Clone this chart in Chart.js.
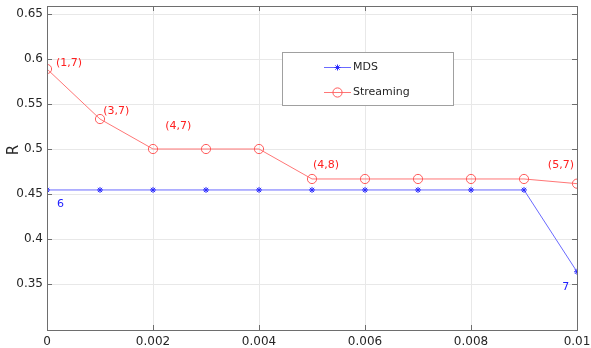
<!DOCTYPE html>
<html>
<head>
<meta charset="utf-8">
<script src="https://cdn.jsdelivr.net/npm/chart.js@4.4.1/dist/chart.umd.min.js"></script>
<style>
  html, body { margin: 0; padding: 0; background: #fff; }
  #wrap { width: 591px; height: 348px; }
</style>
</head>
<body>
<div id="wrap"><canvas id="chart" width="591" height="348"></canvas></div>
<script>
// ======================
// Data
// ======================
const xValues = [0, 0.001, 0.002, 0.003, 0.004, 0.005, 0.006, 0.007, 0.008, 0.009, 0.01];
const mdsValues = [0.4545, 0.4545, 0.4545, 0.4545, 0.4545, 0.4545, 0.4545, 0.4545, 0.4545, 0.4545, 0.3636];
const streamingValues = [0.5889, 0.5333, 0.5, 0.5, 0.5, 0.4667, 0.4667, 0.4667, 0.4667, 0.4667, 0.4615];

const xTicks = [0, 0.002, 0.004, 0.006, 0.008, 0.01];
const yTicks = [0.35, 0.4, 0.45, 0.5, 0.55, 0.6, 0.65];

const seriesNames = ["MDS", "Streaming"];
const yAxisLabel = "R";

// text annotations (like MATLAB text(x, y, str)), in data units
const streamingNotes = ["(1,7)", "(3,7)", "(4,7)", "(4,8)", "(5,7)"];
const streamingNoteX = [0.00017, 0.00106, 0.00223, 0.00502, 0.00945];
const streamingNoteY = [0.5956, 0.5422, 0.5256, 0.4822, 0.4822];
const mdsNotes = ["6", "7"];
const mdsNoteX = [0.00019, 0.00972];
const mdsNoteY = [0.4389, 0.3467];

const FONT = "DejaVu Sans";
const AXIS_COLOR = "#6e6e6e";

// ======================
// Extra drawing: box, inward ticks, notes, legend, y label
// ======================
const matlabLook = {
  id: "matlabLook",
  afterDatasetsDraw(chart) {
    const ctx = chart.ctx;
    const { left, right, top, bottom } = chart.chartArea;
    const xs = chart.scales.x, ys = chart.scales.y;

    ctx.save();
    // box
    ctx.strokeStyle = AXIS_COLOR;
    ctx.lineWidth = 1;
    ctx.strokeRect(Math.round(left) + 0.5, Math.round(top) + 0.5,
      Math.round(right - left), Math.round(bottom - top));

    // inward ticks
    const tl = 5;
    ctx.beginPath();
    xTicks.forEach(v => {
      const px = Math.round(xs.getPixelForValue(v)) + 0.5;
      ctx.moveTo(px, bottom); ctx.lineTo(px, bottom - tl);
      ctx.moveTo(px, top); ctx.lineTo(px, top + tl);
    });
    yTicks.forEach(v => {
      const py = Math.round(ys.getPixelForValue(v)) + 0.5;
      ctx.moveTo(left, py); ctx.lineTo(left + tl, py);
      ctx.moveTo(right, py); ctx.lineTo(right - tl, py);
    });
    ctx.stroke();

    // annotations
    ctx.font = "11px '" + FONT + "'";
    ctx.textAlign = "left";
    ctx.textBaseline = "middle";
    ctx.fillStyle = "#ff2020";
    streamingNotes.forEach((t, i) => {
      ctx.fillText(t, xs.getPixelForValue(streamingNoteX[i]), ys.getPixelForValue(streamingNoteY[i]));
    });
    ctx.fillStyle = "#2020ff";
    mdsNotes.forEach((t, i) => {
      ctx.fillText(t, xs.getPixelForValue(mdsNoteX[i]), ys.getPixelForValue(mdsNoteY[i]));
    });

    // legend
    const lx = 282.5, ly = 52.5, lw = 171, lh = 53;
    ctx.fillStyle = "#fff";
    ctx.fillRect(lx, ly, lw, lh);
    ctx.strokeStyle = "#a0a0a0";
    ctx.strokeRect(lx, ly, lw, lh);
    const rows = [67, 92];
    chart.data.datasets.forEach((ds, i) => {
      const y = rows[i];
      ctx.strokeStyle = ds.borderColor;
      ctx.lineWidth = 1;
      ctx.beginPath();
      ctx.moveTo(324, y + 0.5); ctx.lineTo(351, y + 0.5);
      ctx.stroke();
      ctx.strokeStyle = ds.pointBorderColor;
      ctx.fillStyle = ds.pointBackgroundColor;
      Chart.helpers.drawPoint(ctx, {
        pointStyle: ds.pointStyle,
        radius: ds.pointRadius,
        borderWidth: 1,
        rotation: 0
      }, 337.5, y + 0.5);
      ctx.fillStyle = "#262626";
      ctx.font = "11px '" + FONT + "'";
      ctx.textBaseline = "middle";
      ctx.fillText(ds.label, 353, y);
    });
    ctx.restore();
  },
  afterDraw(chart) {
    // y axis label
    const ctx = chart.ctx;
    ctx.save();
    ctx.translate(14, 150);
    ctx.rotate(-Math.PI / 2);
    ctx.font = "15px '" + FONT + "'";
    ctx.fillStyle = "#262626";
    ctx.textAlign = "center";
    ctx.textBaseline = "middle";
    ctx.fillText(yAxisLabel, 0, 0);
    ctx.restore();
  }
};

function pointsOf(values) {
  return values.map((v, i) => ({ x: xValues[i], y: v }));
}

const ctx = document.getElementById("chart").getContext("2d");
new Chart(ctx, {
  type: "line",
  data: {
    datasets: [
      {
        label: seriesNames[0],
        data: pointsOf(mdsValues),
        borderColor: "#6a6aff",
        borderWidth: 1,
        pointStyle: "star",
        pointRadius: 3,
        pointBorderColor: "#2a2aff",
        pointBorderWidth: 1,
        pointBackgroundColor: "#2a2aff",
        fill: false,
        tension: 0
      },
      {
        label: seriesNames[1],
        data: pointsOf(streamingValues),
        borderColor: "#ff7676",
        borderWidth: 1,
        pointStyle: "circle",
        pointRadius: 4.6,
        pointBorderColor: "#ff5a5a",
        pointBorderWidth: 1,
        pointBackgroundColor: "rgba(0,0,0,0)",
        fill: false,
        tension: 0
      }
    ]
  },
  options: {
    responsive: false,
    animation: false,
    devicePixelRatio: 1,
    layout: { padding: { top: 6, right: 14, left: 0, bottom: 0 } },
    plugins: {
      legend: { display: false },
      tooltip: { enabled: false }
    },
    scales: {
      x: {
        type: "linear",
        min: 0,
        max: 0.01,
        afterBuildTicks: s => { s.ticks = xTicks.map(v => ({ value: v })); },
        afterFit: s => { s.height = 18; s.paddingLeft = 0; s.paddingRight = 0; },
        grid: { color: "#e8e8e8", drawTicks: false },
        border: { display: false },
        ticks: {
          padding: 5,
          maxRotation: 0,
          autoSkip: false,
          color: "#262626",
          font: { family: FONT, size: 12 },
          callback: v => String(+v.toFixed(3))
        }
      },
      y: {
        type: "linear",
        min: 0.2989,
        max: 0.6589,
        afterBuildTicks: s => { s.ticks = yTicks.map(v => ({ value: v })); },
        afterFit: s => { s.width = 47; s.paddingTop = 0; s.paddingBottom = 0; },
        grid: { color: "#e8e8e8", drawTicks: false },
        border: { display: false },
        ticks: {
          padding: 4,
          color: "#262626",
          font: { family: FONT, size: 12 },
          callback: v => String(+v.toFixed(2))
        }
      }
    }
  },
  plugins: [matlabLook]
});
</script>
</body>
</html>
